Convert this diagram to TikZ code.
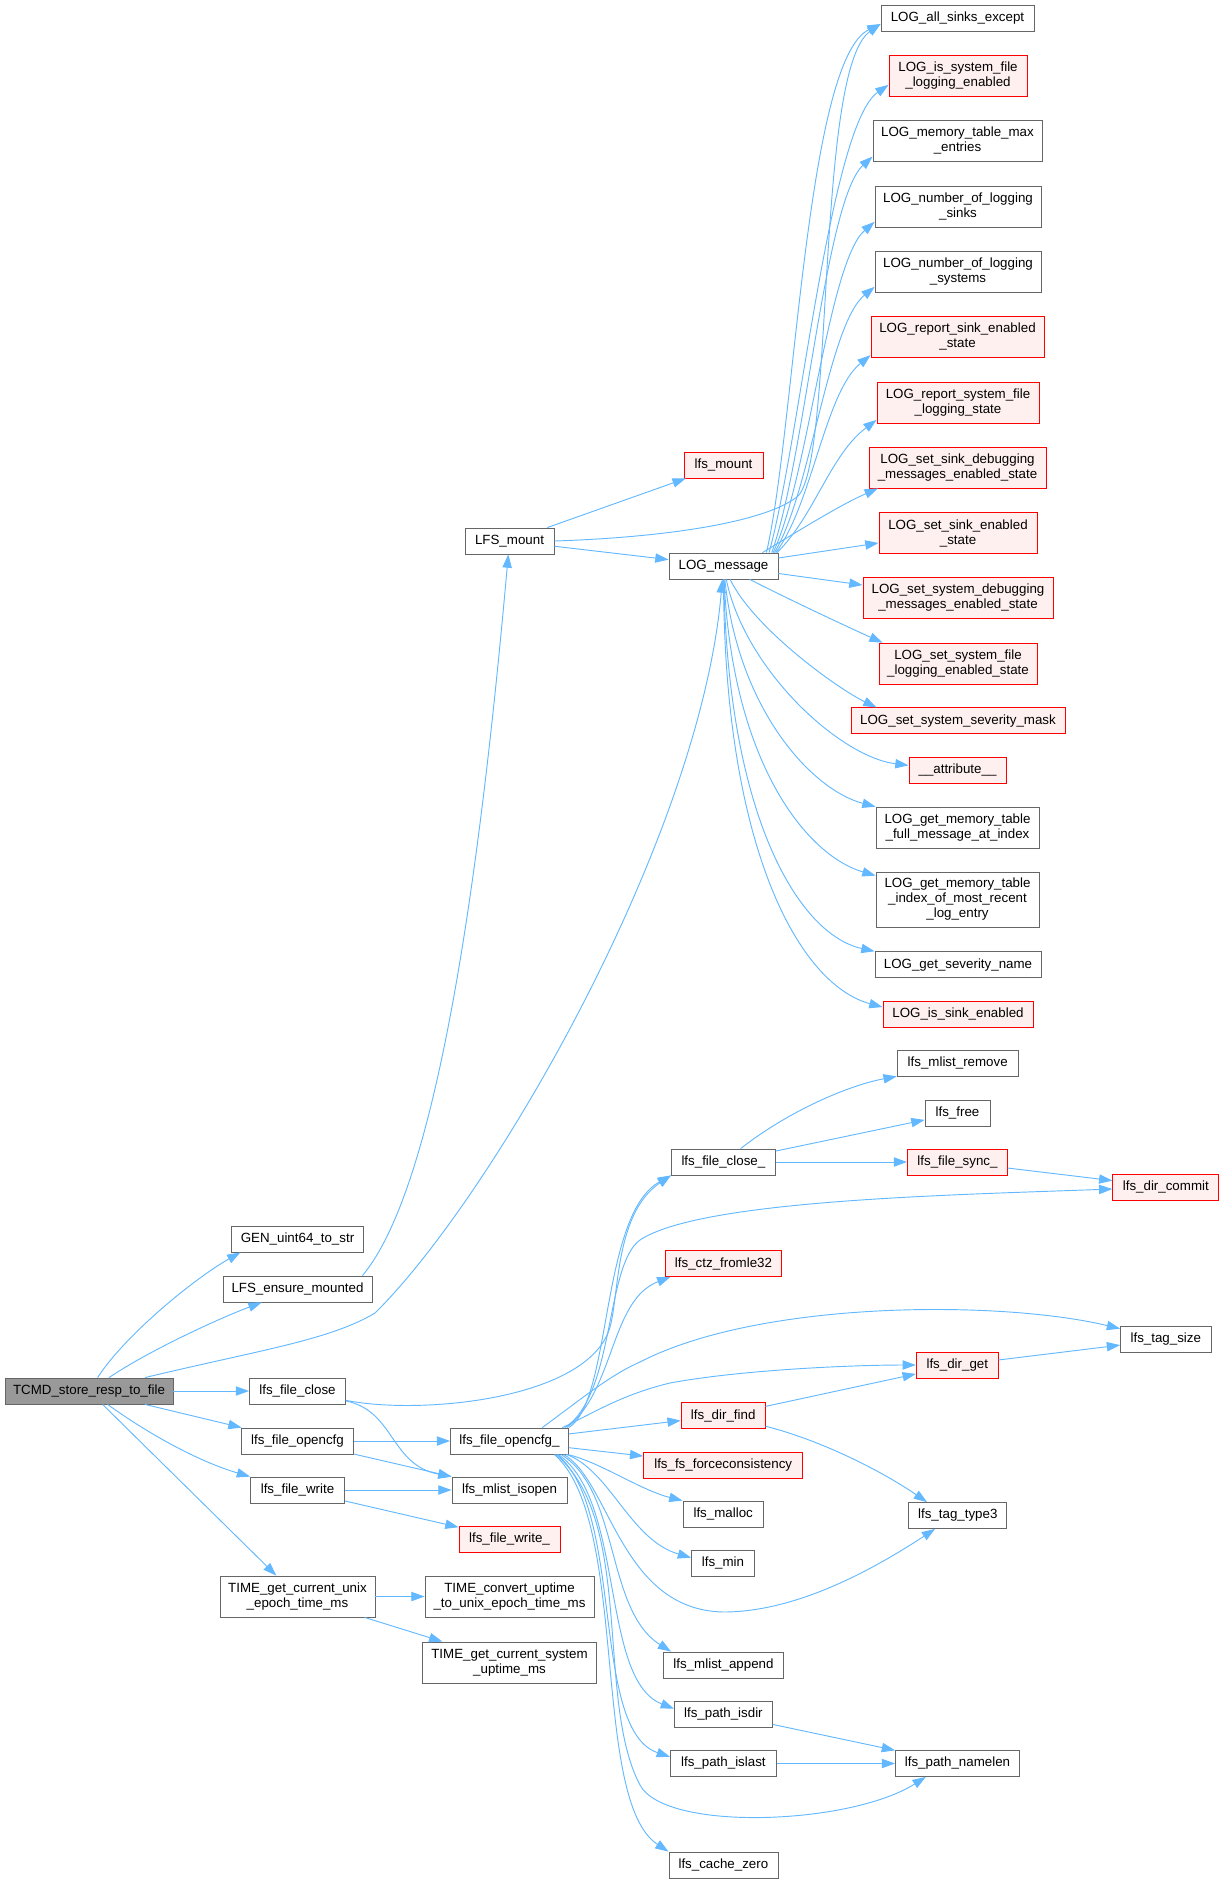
\documentclass[tikz,border=0pt]{standalone}
\usepackage{fontspec}
\setmainfont{Liberation Sans}
\usetikzlibrary{arrows.meta}
\definecolor{edgeblue}{HTML}{63B8FF}
\definecolor{nodegray}{HTML}{666666}
\definecolor{pinkfill}{HTML}{FFF0F0}
\definecolor{rootfill}{HTML}{999999}
\tikzset{
  fn/.style={draw=nodegray, fill=white, line width=0.6pt, inner sep=0pt, minimum height=19.5pt, align=center, font=\fontsize{10pt}{11.25pt}\selectfont},
  fnred/.style={fn, draw=red, fill=pinkfill},
  fnroot/.style={fn, fill=rootfill},
  two/.style={minimum height=30.75pt},
  three/.style={minimum height=41.25pt},
  call/.style={draw=edgeblue, line width=0.7pt, -{Triangle[length=10pt,width=7pt]}}
}
\begin{document}
\begin{tikzpicture}[x=0.75pt,y=-0.75pt]
\useasboundingbox (0,0) rectangle (1225,1883);
\node[fnroot, minimum width=126pt] (tcmd) at (89,1391) {TCMD\_store\_resp\_to\_file};
\node[fn, minimum width=99pt] (genstr) at (297.5,1239) {GEN\_uint64\_to\_str};
\node[fn, minimum width=111.75pt] (ensmnt) at (297.5,1289) {LFS\_ensure\_mounted};
\node[fn, minimum width=72pt] (fclose) at (297.5,1391) {lfs\_file\_close};
\node[fn, minimum width=84pt] (fopen) at (297.5,1441) {lfs\_file\_opencfg};
\node[fn, minimum width=70.5pt] (fwrite) at (297.5,1490) {lfs\_file\_write};
\node[fn, two, minimum width=116.25pt] (tunix) at (297.5,1596.5) {TIME\_get\_current\_unix\\\_epoch\_time\_ms};
\node[fn, minimum width=88.5pt] (fopencfg) at (509.5,1441) {lfs\_file\_opencfg\_};
\node[fn, minimum width=86.25pt] (isopen) at (509.5,1490) {lfs\_mlist\_isopen};
\node[fnred, minimum width=75.75pt] (fwritex) at (509.5,1539) {lfs\_file\_write\_};
\node[fn, two, minimum width=126.75pt] (tconv) at (509.5,1596.5) {TIME\_convert\_uptime\\\_to\_unix\_epoch\_time\_ms};
\node[fn, two, minimum width=130.5pt] (tsys) at (509.5,1662.5) {TIME\_get\_current\_system\\\_uptime\_ms};
\node[fn, minimum width=66.75pt] (lmount) at (509.5,541) {LFS\_mount};
\node[fnred, minimum width=59.25pt] (lfsmount) at (723.5,465) {lfs\_mount};
\node[fn, minimum width=81.75pt] (logmsg) at (723.5,566) {LOG\_message};
\node[fn, minimum width=114.75pt] (allsinks) at (957.5,18) {LOG\_all\_sinks\_except};
\node[fnred, two, minimum width=103.5pt] (issysfile) at (958,75.5) {LOG\_is\_system\_file\\\_logging\_enabled};
\node[fn, two, minimum width=126.75pt] (memmax) at (957.5,140.5) {LOG\_memory\_table\_max\\\_entries};
\node[fn, two, minimum width=124.5pt] (nsinks) at (958,206.5) {LOG\_number\_of\_logging\\\_sinks};
\node[fn, two, minimum width=124.5pt] (nsystems) at (958,271.5) {LOG\_number\_of\_logging\\\_systems};
\node[fnred, two, minimum width=129.75pt] (repsink) at (957.5,336.5) {LOG\_report\_sink\_enabled\\\_state};
\node[fnred, two, minimum width=121.5pt] (repsysfile) at (958,402.5) {LOG\_report\_system\_file\\\_logging\_state};
\node[fnred, two, minimum width=132.75pt] (setsinkdbg) at (957.5,467.5) {LOG\_set\_sink\_debugging\\\_messages\_enabled\_state};
\node[fnred, two, minimum width=118.5pt] (setsinken) at (958,533) {LOG\_set\_sink\_enabled\\\_state};
\node[fnred, two, minimum width=142.5pt] (setsysdbg) at (958,598) {LOG\_set\_system\_debugging\\\_messages\_enabled\_state};
\node[fnred, two, minimum width=118.5pt] (setsysfile) at (958,663.6) {LOG\_set\_system\_file\\\_logging\_enabled\_state};
\node[fnred, minimum width=160.5pt] (sevmask) at (958,720.8) {LOG\_set\_system\_severity\_mask};
\node[fnred, minimum width=72.75pt] (attrib) at (957.5,770) {\_\_attribute\_\_};
\node[fn, two, minimum width=122.25pt] (memfull) at (957.5,827.6) {LOG\_get\_memory\_table\\\_full\_message\_at\_index};
\node[fn, three, minimum width=122.25pt] (memidx) at (957.5,899.5) {LOG\_get\_memory\_table\\\_index\_of\_most\_recent\\\_log\_entry};
\node[fn, minimum width=124.5pt] (sevname) at (958,964.7) {LOG\_get\_severity\_name};
\node[fnred, minimum width=112.5pt] (issink) at (958,1014.4) {LOG\_is\_sink\_enabled};
\node[fn, minimum width=90.75pt] (mlremove) at (957.7,1063) {lfs\_mlist\_remove};
\node[fn, minimum width=48.75pt] (lfree) at (957.5,1113) {lfs\_free};
\node[fnred, minimum width=75pt] (fsync) at (957.5,1162) {lfs\_file\_sync\_};
\node[fn, minimum width=78pt] (fclosex) at (723.4,1162) {lfs\_file\_close\_};
\node[fnred, minimum width=79.5pt] (dcommit) at (1165.8,1187) {lfs\_dir\_commit};
\node[fnred, minimum width=87pt] (ctz) at (723.5,1263.5) {lfs\_ctz\_fromle32};
\node[fn, minimum width=67.9pt] (tagsize) at (1165.8,1339.5) {lfs\_tag\_size};
\node[fnred, minimum width=61.5pt] (dirget) at (957.3,1365) {lfs\_dir\_get};
\node[fnred, minimum width=63pt] (dirfind) at (723.2,1415.5) {lfs\_dir\_find};
\node[fnred, minimum width=119.25pt] (force) at (723.2,1465) {lfs\_fs\_forceconsistency};
\node[fn, minimum width=60.4pt] (malloc) at (723.2,1514) {lfs\_malloc};
\node[fn, minimum width=73.5pt] (tagtype) at (957.8,1515.5) {lfs\_tag\_type3};
\node[fn, minimum width=47.25pt] (lmin) at (723,1563) {lfs\_min};
\node[fn, minimum width=90pt] (mlappend) at (723.5,1665) {lfs\_mlist\_append};
\node[fn, minimum width=73.5pt] (isdir) at (723.4,1714) {lfs\_path\_isdir};
\node[fn, minimum width=79.5pt] (islast) at (723.4,1763.5) {lfs\_path\_islast};
\node[fn, minimum width=93pt] (namelen) at (957.5,1763.5) {lfs\_path\_namelen};
\node[fn, minimum width=81.75pt] (cachezero) at (723.4,1865) {lfs\_cache\_zero};
\draw[call] (tcmd) .. controls (125,1335) and (195,1278) .. ([xshift=7pt]genstr.south west);
\draw[call] (tcmd) .. controls (150,1350) and (220,1318) .. (ensmnt);
\draw[call] (tcmd) .. controls (260,1350) and (330,1340) .. (375,1313) .. controls (490,1200) and (700,840) .. (logmsg);
\draw[call] (tcmd) -- (fclose);
\draw[call] (tcmd) -- (fopen);
\draw[call] (tcmd) .. controls (150,1435) and (200,1462) .. (fwrite.north west);
\draw[call] (tcmd) -- (tunix);
\draw[call] ([xshift=-7.5pt]ensmnt.north east) .. controls (430,1195) and (475,930) .. (lmount);
\draw[call] (lmount) -- (lfsmount);
\draw[call] (lmount) -- (logmsg);
\draw[call] (lmount.east) .. controls (650,538) and (760,525) .. (797,497) .. controls (835,465) and (815,70) .. ([yshift=-4.5pt]allsinks.west);
\draw[call] ([xshift=-9pt]logmsg.north east) .. controls (795,430) and (806,60) .. ([yshift=-4.5pt]allsinks.west);
\draw[call] ([xshift=-7pt]logmsg.north east) .. controls (800,440) and (830,125) .. ([yshift=-7pt]issysfile.west);
\draw[call] ([xshift=-5pt]logmsg.north east) .. controls (805,460) and (825,200) .. ([yshift=-12pt]memmax.west);
\draw[call] ([xshift=-4pt]logmsg.north east) .. controls (808,480) and (828,262) .. ([yshift=-11.5pt]nsinks.west);
\draw[call] ([xshift=-3pt]logmsg.north east) .. controls (810,495) and (828,325) .. ([yshift=-11.5pt]nsystems.west);
\draw[call] ([xshift=-2pt]logmsg.north east) .. controls (812,505) and (825,392) .. ([yshift=-14pt]repsink.west);
\draw[call] ([xshift=-1pt]logmsg.north east) .. controls (815,515) and (830,455) .. ([yshift=-13pt]repsysfile.west);
\draw[call] ([xshift=-12pt]logmsg.north east) .. controls (800,530) and (840,505) .. ([xshift=7pt]setsinkdbg.south west);
\draw[call] ([yshift=6pt]logmsg.east) -- ([yshift=-7.5pt]setsinken.west);
\draw[call] (logmsg) -- (setsysdbg);
\draw[call] (logmsg) .. controls (790,600) and (850,628) .. ([xshift=3pt]setsysfile.north west);
\draw[call] (logmsg) .. controls (755,630) and (840,690) .. ([xshift=19.5pt]sevmask.north west);
\draw[call] (logmsg) .. controls (745,670) and (840,757) .. ([yshift=3.5pt]attrib.west);
\draw[call] (logmsg) .. controls (738,710) and (812,790) .. (memfull.north west);
\draw[call] (logmsg) .. controls (732,760) and (805,855) .. ([yshift=-3pt]memidx.north west);
\draw[call] (logmsg) .. controls (728,820) and (800,935) .. (sevname.north west);
\draw[call] (logmsg) .. controls (724,850) and (800,985) .. ([yshift=5.5pt]issink.west);
\draw[call] ([yshift=-7pt]fclose.east) .. controls (420,1415) and (580,1400) .. (608,1333) .. controls (620,1305) and (612,1215) .. (fclosex.south west);
\draw[call] (fclose) .. controls (395,1411) and (390,1465) .. (isopen.north west);
\draw[call] (fopen) -- (fopencfg);
\draw[call] (fopen) -- (isopen);
\draw[call] (fwrite) -- (isopen);
\draw[call] (fwrite) -- (fwritex);
\draw[call] (tunix) -- (tconv);
\draw[call] (tunix) -- (tsys);
\draw[call] (fopencfg.north east) .. controls (612,1400) and (600,1215) .. (fclosex.south west);
\draw[call] ([xshift=-3pt]fopencfg.north east) .. controls (615,1395) and (605,1265) .. (640,1240) .. controls (700,1200) and (950,1195) .. (dcommit);
\draw[call] ([xshift=-1.5pt]fopencfg.north east) .. controls (615,1390) and (610,1300) .. ([xshift=4pt]ctz.south west);
\draw[call] ([xshift=-20pt]fopencfg.north east) .. controls (580,1400) and (610,1375) .. (640,1362) .. controls (760,1300) and (1000,1300) .. (tagsize);
\draw[call] ([xshift=-5pt]fopencfg.north east) .. controls (590,1415) and (620,1395) .. (670,1383) .. controls (740,1370) and (850,1365) .. (dirget);
\draw[call] (fopencfg) -- (dirfind);
\draw[call] (fopencfg) -- (force);
\draw[call] (fopencfg) .. controls (600,1462) and (640,1490) .. (malloc.north west);
\draw[call] ([xshift=-2pt]fopencfg.south east) .. controls (610,1470) and (630,1540) .. ([yshift=4pt]lmin.west);
\draw[call] ([xshift=-4pt]fopencfg.south east) .. controls (610,1480) and (620,1610) .. (723.5,1612) .. controls (800,1612) and (880,1565) .. ([xshift=20pt]tagtype.south west);
\draw[call] ([xshift=-6pt]fopencfg.south east) .. controls (620,1490) and (605,1610) .. ([xshift=6pt]mlappend.north west);
\draw[call] ([xshift=-8pt]fopencfg.south east) .. controls (625,1500) and (600,1680) .. ([yshift=4pt]isdir.west);
\draw[call] ([xshift=-9pt]fopencfg.south east) .. controls (625,1510) and (590,1730) .. ([yshift=5pt]islast.west);
\draw[call] ([xshift=-10pt]fopencfg.south east) .. controls (635,1520) and (595,1700) .. (640,1785) .. controls (665,1832) and (850,1825) .. ([xshift=23pt]namelen.south west);
\draw[call] ([xshift=-11pt]fopencfg.south east) .. controls (630,1520) and (590,1800) .. (cachezero.north west);
\draw[call] (fclosex) .. controls (790,1110) and (850,1085) .. (mlremove.south west);
\draw[call] (fclosex) -- (lfree);
\draw[call] (fclosex) -- (fsync);
\draw[call] (fsync) -- (dcommit);
\draw[call] (dirfind) -- (dirget);
\draw[call] (dirfind) .. controls (820,1440) and (880,1470) .. ([xshift=14pt]tagtype.north west);
\draw[call] (dirget) -- (tagsize);
\draw[call] (isdir) -- (namelen);
\draw[call] (islast) -- (namelen);
\end{tikzpicture}
\end{document}
